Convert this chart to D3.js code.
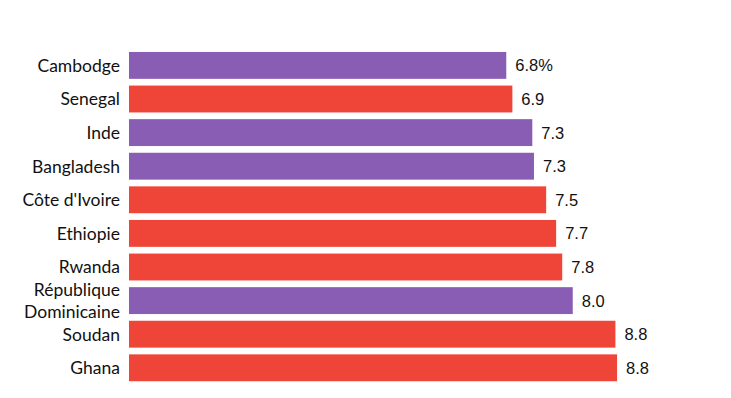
<!DOCTYPE html>
<html>
<head>
<meta charset="utf-8">
<script src="https://cdn.jsdelivr.net/npm/d3@7"></script>
<style>
  body { margin: 0; background: #fff; }
  .country { font-family: Lato, "Open Sans", sans-serif; font-size: 17.5px; fill: #111; }
  .value { font-family: "Liberation Sans", Arial, sans-serif; font-size: 16.5px; fill: #111; }
</style>
</head>
<body>
<div id="chart"></div>
<script>
var countries = ["Cambodge", "Senegal", "Inde", "Bangladesh", "Côte d'Ivoire",
                 "Ethiopie", "Rwanda", "République Dominicaine", "Soudan", "Ghana"];
var values = [6.81, 6.92, 7.28, 7.31, 7.53, 7.71, 7.82, 8.01, 8.78, 8.81];
var groups = ["purple", "red", "purple", "purple", "red", "red", "red", "purple", "red", "red"];

var width = 731, height = 398;
var svg = d3.select('#chart').append('svg')
  .attr('width', width)
  .attr('height', height);

var data = countries.map(function (c, i) {
  return { name: c, value: values[i], group: groups[i] };
});

var xScale = d3.scaleLinear()
  .domain([0, 10])
  .range([129, 683]);

var yScale = d3.scaleBand()
  .domain(countries)
  .range([48.6, 384.6])
  .paddingInner(0.2)
  .paddingOuter(0.1);

var colorScale = d3.scaleOrdinal()
  .domain(["purple", "red"])
  .range(["#8a5db5", "#ef4539"]);

svg.selectAll('.bar')
  .data(data)
  .enter()
  .append('rect')
  .attr('class', 'bar')
  .attr('x', xScale(0))
  .attr('y', function (d) { return yScale(d.name); })
  .attr('width', function (d) { return xScale(d.value) - xScale(0); })
  .attr('height', yScale.bandwidth())
  .attr('fill', function (d) { return colorScale(d.group); });

// value labels, first one carries the unit
svg.selectAll('.value')
  .data(data)
  .enter()
  .append('text')
  .attr('class', 'value')
  .attr('x', function (d) { return xScale(d.value) + 9; })
  .attr('y', function (d) { return yScale(d.name) + yScale.bandwidth() / 2; })
  .attr('dy', '0.36em')
  .text(function (d, i) { return d.value.toFixed(1) + (i === 0 ? '%' : ''); });

// country labels, long names split on two lines
var labels = svg.selectAll('.country')
  .data(data)
  .enter()
  .append('text')
  .attr('class', 'country')
  .attr('text-anchor', 'end')
  .attr('y', function (d) { return yScale(d.name) + yScale.bandwidth() / 2; });

labels.each(function (d) {
  var t = d3.select(this);
  var words = d.name.length > 16 ? d.name.split(' ') : [d.name];
  words.forEach(function (w, j) {
    t.append('tspan')
      .attr('x', 120)
      .attr('dy', j === 0 ? (0.36 - (words.length - 1) * 0.62) + 'em' : '1.24em')
      .text(w);
  });
});
</script>
</body>
</html>
